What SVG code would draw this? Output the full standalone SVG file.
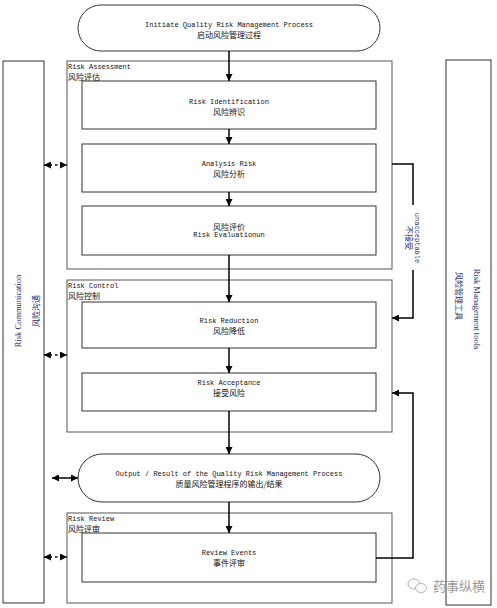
<svg xmlns="http://www.w3.org/2000/svg" width="497" height="608" viewBox="0 0 497 608">
<defs>
<marker id="ah" viewBox="0 0 10 10" refX="10" refY="5" markerWidth="7" markerHeight="7" markerUnits="userSpaceOnUse" orient="auto-start-reverse">
<path d="M0,0 L10,5 L0,10 z" fill="#000"/>
</marker>
<style>
.bg{fill:#fff}
.outer{fill:#fff;stroke:#555;stroke-width:1}
.inner{fill:#fff;stroke:#333;stroke-width:1}
.side{fill:#fff;stroke:#333;stroke-width:1}
.en{font-family:"Liberation Mono",monospace;font-size:7px;fill:#111}
.zh{font-family:"Noto Sans CJK SC",sans-serif;font-size:8px;fill:#111}
.c{text-anchor:middle;dominant-baseline:central}
.l{dominant-baseline:central}
.rot{font-family:"Liberation Serif",serif;font-size:8.5px;fill:#1f2a6b}
.rzh{font-family:"Noto Sans CJK SC",sans-serif;font-size:8px;fill:#1f2a6b}
.ln{fill:none;stroke:#000;stroke-width:1.5}
.dash{fill:none;stroke:#000;stroke-width:1.3;stroke-dasharray:2.5,3}
.wm{font-family:"Noto Sans CJK SC",sans-serif;font-size:13px;fill:#9a9a9a}
</style>
</defs>
<rect class="bg" x="0" y="0" width="497" height="608"/>

<g id="risk-communication">
<rect class="side" x="3" y="61" width="41" height="542"/>
<text class="rot c" transform="translate(18,311) rotate(-90)">Risk Communication</text>
<text class="rzh c" transform="translate(35,311) rotate(-90)">风险沟通</text>
</g>

<g id="risk-management-tools">
<rect class="side" x="446" y="60" width="45" height="545"/>
<text class="rot c" transform="translate(477,309) rotate(90)">Risk Management tools</text>
<text class="rzh c" transform="translate(459,296) rotate(90)">风险管理工具</text>
</g>

<g id="initiate">
<rect class="inner" x="78" y="5" width="302" height="46" rx="23" ry="23"/>
<text class="en c" x="229" y="25">Initiate Quality Risk Management Process</text>
<text class="zh c" x="229" y="34">启动风险管理过程</text>
</g>

<g id="risk-assessment">
<rect class="outer" x="67" y="61" width="325" height="208"/>
<text class="en l" x="68" y="67">Risk Assessment</text>
<text class="zh l" x="68" y="76">风险评估</text>
</g>

<g id="risk-identification">
<rect class="inner" x="82" y="81" width="294" height="48"/>
<text class="en c" x="229" y="102">Risk Identification</text>
<text class="zh c" x="229" y="111">风险辨识</text>
</g>

<g id="analysis-risk">
<rect class="inner" x="82" y="144" width="294" height="48"/>
<text class="en c" x="229" y="164">Analysis Risk</text>
<text class="zh c" x="229" y="173">风险分析</text>
</g>

<g id="risk-evaluation">
<rect class="inner" x="82" y="206" width="294" height="49"/>
<text class="zh c" x="229" y="226">风险评价</text>
<text class="en c" x="229" y="235">Risk Evaluationun</text>
</g>

<g id="risk-control">
<rect class="outer" x="67" y="280" width="325" height="152"/>
<text class="en l" x="68" y="286">Risk Control</text>
<text class="zh l" x="68" y="295">风险控制</text>
</g>

<g id="risk-reduction">
<rect class="inner" x="82" y="302" width="294" height="46"/>
<text class="en c" x="229" y="321">Risk Reduction</text>
<text class="zh c" x="229" y="330">风险降低</text>
</g>

<g id="risk-acceptance">
<rect class="inner" x="82" y="373" width="294" height="38"/>
<text class="en c" x="229" y="383">Risk Acceptance</text>
<text class="zh c" x="229" y="392">接受风险</text>
</g>

<g id="output">
<rect class="inner" x="78" y="454" width="302" height="48" rx="24" ry="24"/>
<text class="en c" x="229" y="474">Output / Result of the Quality Risk Management Process</text>
<text class="zh c" x="229" y="483">质量风险管理程序的输出/结果</text>
</g>

<g id="risk-review">
<rect class="outer" x="67" y="513" width="325" height="90"/>
<text class="en l" x="68" y="519">Risk Review</text>
<text class="zh l" x="68" y="528">风险评审</text>
</g>

<g id="review-events">
<rect class="inner" x="82" y="533" width="294" height="49"/>
<text class="en c" x="229" y="553">Review Events</text>
<text class="zh c" x="229" y="562">事件评审</text>
</g>

<g id="connectors">
<line class="ln" x1="229" y1="51" x2="229" y2="81" marker-end="url(#ah)"/>
<line class="ln" x1="229" y1="129" x2="229" y2="144" marker-end="url(#ah)"/>
<line class="ln" x1="229" y1="192" x2="229" y2="206" marker-end="url(#ah)"/>
<line class="ln" x1="229" y1="255" x2="229" y2="302" marker-end="url(#ah)"/>
<line class="ln" x1="229" y1="348" x2="229" y2="373" marker-end="url(#ah)"/>
<line class="ln" x1="229" y1="411" x2="229" y2="454" marker-end="url(#ah)"/>
<line class="ln" x1="229" y1="502" x2="229" y2="533" marker-end="url(#ah)"/>
<polyline class="ln" points="392,164 413,164 413,205"/>
<polyline class="ln" points="413,270 413,318 392,318" marker-end="url(#ah)"/>
<polyline class="ln" points="376,558 413,558 413,393 392,393" marker-end="url(#ah)"/>
<line class="dash" x1="44" y1="165" x2="67" y2="165" marker-start="url(#ah)" marker-end="url(#ah)"/>
<line class="dash" x1="44" y1="355" x2="67" y2="355" marker-start="url(#ah)" marker-end="url(#ah)"/>
<line class="dash" x1="44" y1="557" x2="67" y2="557" marker-start="url(#ah)" marker-end="url(#ah)"/>
<line class="ln" x1="52" y1="478" x2="78" y2="478" marker-start="url(#ah)" marker-end="url(#ah)"/>
<text class="en c" style="fill:#1f2a6b" transform="translate(417,238) rotate(90)">unacceptable</text>
<text class="rzh c" transform="translate(409,238) rotate(90)">不接受</text>
</g>

<g id="watermark">
<ellipse cx="414" cy="584" rx="6" ry="5" fill="none" stroke="#b0b0b0" stroke-width="1"/>
<ellipse cx="421" cy="588" rx="5.5" ry="4.5" fill="#fff" stroke="#b0b0b0" stroke-width="1"/>
<text class="wm" x="433" y="591">药事纵横</text>
</g>
</svg>
